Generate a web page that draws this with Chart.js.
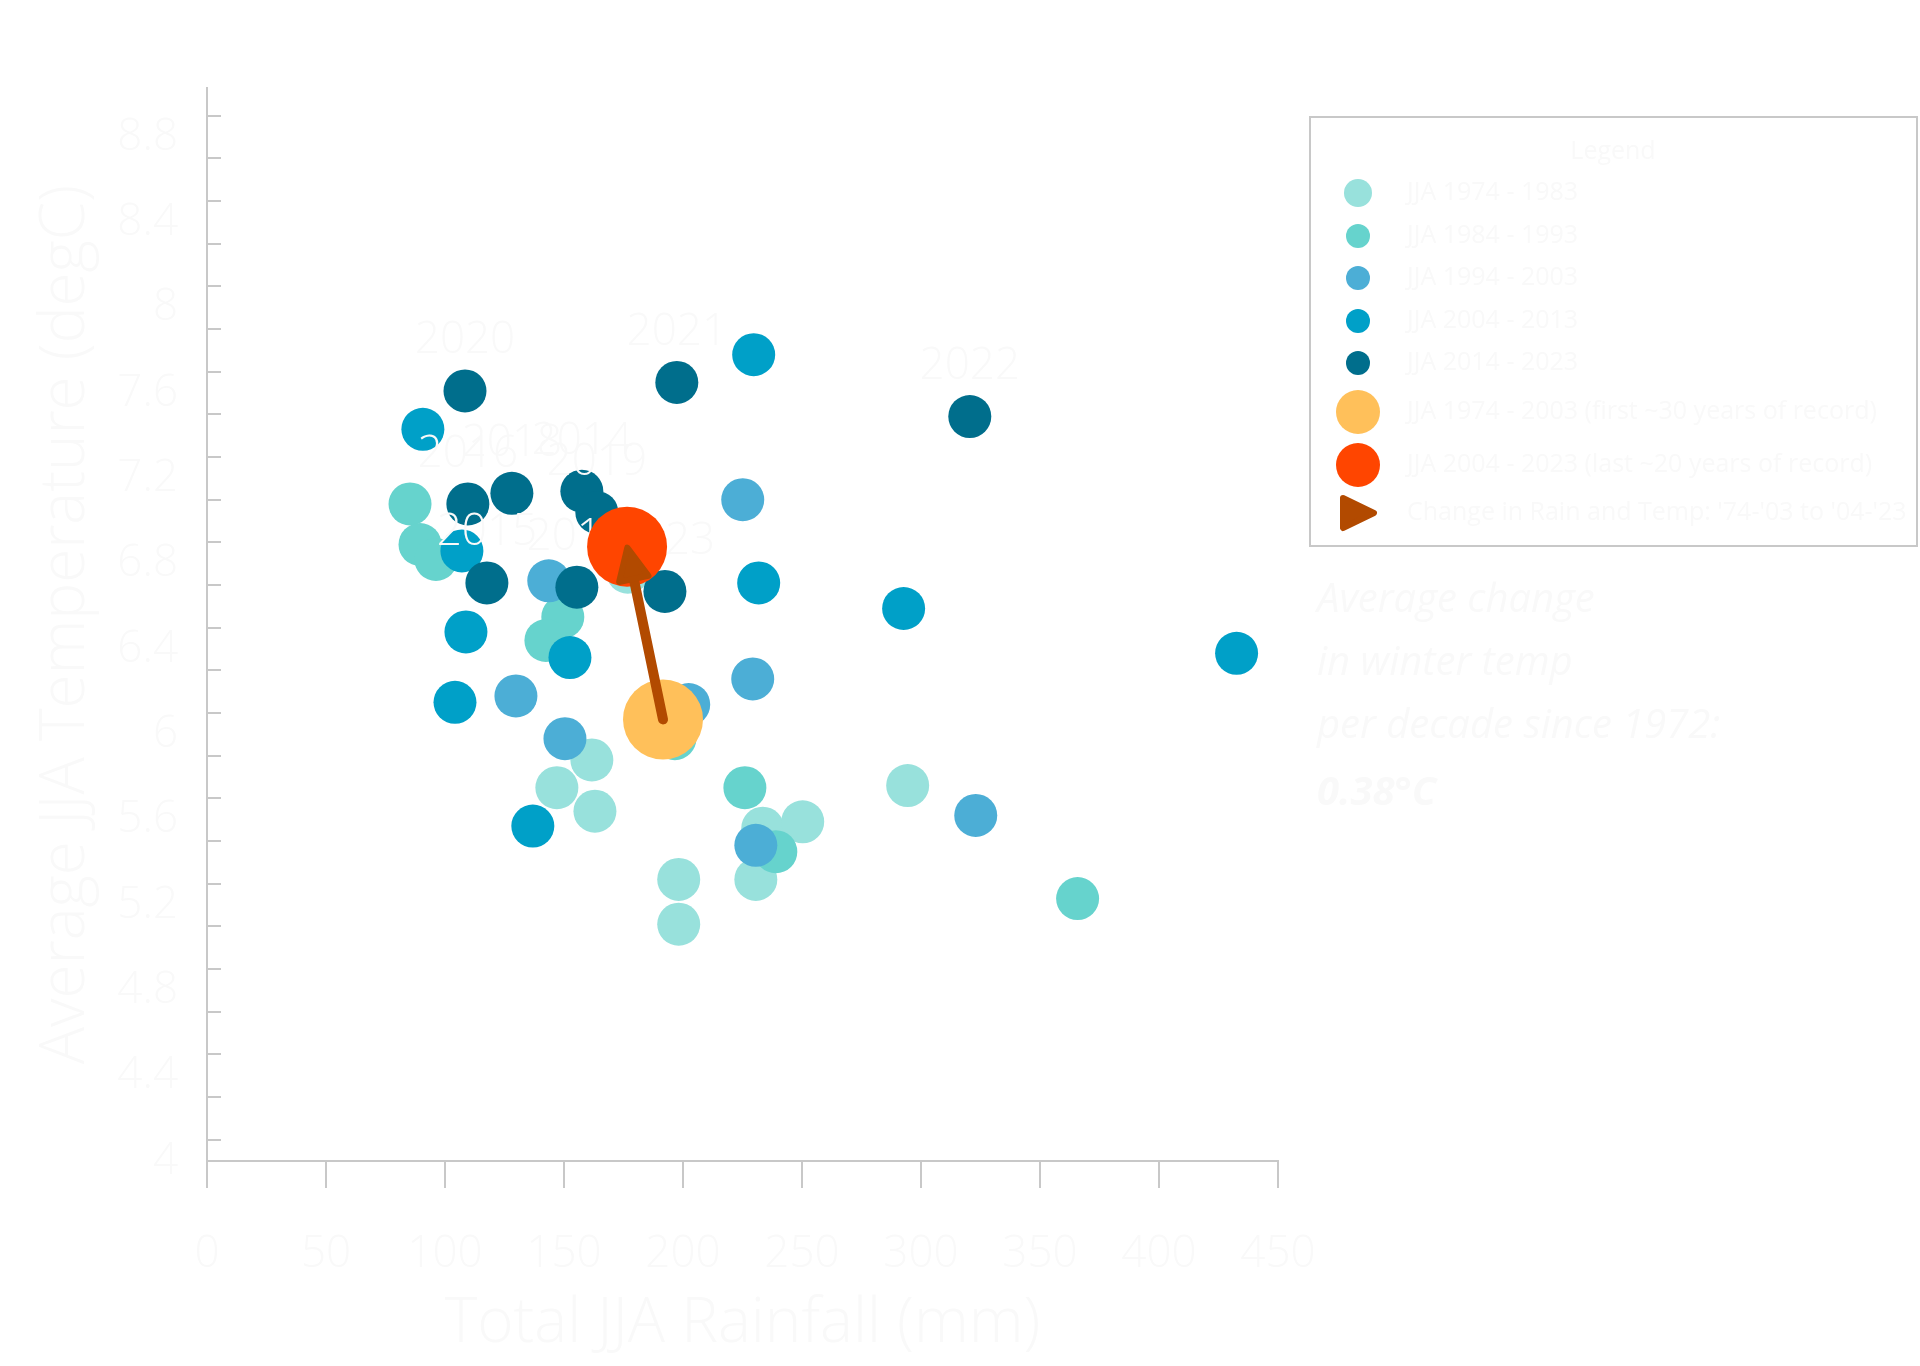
<!DOCTYPE html>
<html>
<head>
<meta charset="utf-8">
<script src="https://cdn.jsdelivr.net/npm/chart.js@4.4.1/dist/chart.umd.min.js"></script>
<style>
html,body{margin:0;padding:0;background:#ffffff;}
#wrap{width:1920px;height:1366px;position:relative;}
</style>
</head>
<body>
<div id="wrap"><canvas id="c" width="1920" height="1366"></canvas></div>
<script>
// ---------- DATA ----------
const seriesLabels = [
  'JJA 1974 - 1983',
  'JJA 1984 - 1993',
  'JJA 1994 - 2003',
  'JJA 2004 - 2013',
  'JJA 2014 - 2023',
  'JJA 1974 - 2003 (first ~30 years of record)',
  'JJA 2004 - 2023 (last ~20 years of record)',
  "Change in Rain and Temp: '74-'03 to '04-'23"
];
const seriesColors = ['#98e1dc', '#66d3cd', '#4caed6', '#00a0c8', '#006e8c', '#ffc05a', '#ff4500'];
const arrowColor = '#b24a00';

const rain1974_1983 = [176.8, 161.7, 147.0, 163.0, 233.5, 250.3, 230.6, 198.2, 198.2, 294.4];
const temp1974_1983 = [6.76, 5.88, 5.75, 5.64, 5.56, 5.59, 5.32, 5.32, 5.11, 5.76];

const rain1984_1993 = [85.3, 89.5, 96.2, 149.5, 142.4, 226.0, 239.0, 365.8, 196.6];
const temp1984_1993 = [7.08, 6.89, 6.82, 6.55, 6.44, 5.75, 5.45, 5.23, 5.98];

const rain1994_2003 = [225.1, 143.6, 129.8, 150.4, 229.3, 202.4, 230.6, 323.0];
const temp1994_2003 = [7.10, 6.72, 6.18, 5.98, 6.26, 6.14, 5.48, 5.62];

const rain2004_2013 = [90.7, 229.7, 231.8, 292.7, 432.6, 107.1, 108.8, 152.5, 104.2, 136.9];
const temp2004_2013 = [7.43, 7.78, 6.71, 6.59, 6.38, 6.86, 6.48, 6.36, 6.15, 5.57];

const years2014_2023 = ['2020', '2021', '2022', '2018', '2014', '2019', '2016', '2015', '2017', '2023'];
const rain2014_2023 = [108.4, 197.4, 320.5, 128.1, 157.5, 163.8, 109.6, 117.6, 155.4, 192.4];
const temp2014_2023 = [7.61, 7.65, 7.49, 7.13, 7.14, 7.04, 7.08, 6.71, 6.69, 6.67];

// period means: [1974-2003, 2004-2023]
const meanRain = [191.6, 176.5];
const meanTemp = [6.07, 6.88];

const xTickValues = [0, 50, 100, 150, 200, 250, 300, 350, 400, 450];
const yTickLabels = [4, 4.4, 4.8, 5.2, 5.6, 6, 6.4, 6.8, 7.2, 7.6, 8, 8.4, 8.8];
const yMinorTicks = [4.1, 4.3, 4.5, 4.7, 4.9, 5.1, 5.3, 5.5, 5.7, 5.9, 6.1, 6.3, 6.5, 6.7, 6.9, 7.1, 7.3, 7.5, 7.7, 7.9, 8.1, 8.3, 8.5, 8.7, 8.9];

const xTitle = 'Total JJA Rainfall (mm)';
const yTitle = 'Average JJA Temperature (degC)';
const legendTitle = 'Legend';
const annotationLines = ['Average change', 'in winter temp', 'per decade since 1972:', '0.38\u00B0C'];

// ---------- STYLE ----------
const FONT = "'Open Sans', 'Noto Sans', 'DejaVu Sans', sans-serif";
const TXT = '#f9f9f9';
const AXIS = '#c8c8c8';

const pts = (xs, ys) => xs.map((x, i) => ({ x: x, y: ys[i] }));

function pointSet(label, xs, ys, color, r, order) {
  return {
    label: label,
    data: pts(xs, ys),
    backgroundColor: color,
    borderColor: color,
    pointRadius: r,
    pointHoverRadius: r,
    pointBorderWidth: 0,
    pointHoverBorderWidth: 0,
    order: order
  };
}

const DARK_INDEX = 2;
const datasets = [
  pointSet(seriesLabels[6], [meanRain[1]], [meanTemp[1]], seriesColors[6], 40, 1),
  pointSet(seriesLabels[5], [meanRain[0]], [meanTemp[0]], seriesColors[5], 40, 2),
  pointSet(seriesLabels[4], rain2014_2023, temp2014_2023, seriesColors[4], 21.5, 3),
  pointSet(seriesLabels[3], rain2004_2013, temp2004_2013, seriesColors[3], 21.5, 4),
  pointSet(seriesLabels[2], rain1994_2003, temp1994_2003, seriesColors[2], 21.5, 5),
  pointSet(seriesLabels[1], rain1984_1993, temp1984_1993, seriesColors[1], 21.5, 6),
  pointSet(seriesLabels[0], rain1974_1983, temp1974_1983, seriesColors[0], 21.5, 7)
];

// ---------- EXTRA DRAWING ----------
function roundedTriangle(ctx, tip, dirx, diry, len, half, color, join) {
  const bx = tip.x - dirx * len, by = tip.y - diry * len;
  const nx = -diry, ny = dirx;
  ctx.beginPath();
  ctx.moveTo(tip.x, tip.y);
  ctx.lineTo(bx + nx * half, by + ny * half);
  ctx.lineTo(bx - nx * half, by - ny * half);
  ctx.closePath();
  ctx.fillStyle = color;
  ctx.strokeStyle = color;
  ctx.lineJoin = 'round';
  ctx.lineWidth = join;
  ctx.fill();
  ctx.stroke();
}

const extras = {
  id: 'extras',
  afterDatasetDraw(chart, args) {
    if (args.index !== DARK_INDEX) return;
    // year labels for 2014-2023 (under the period means)
    const ctx = chart.ctx;
    const xs = chart.scales.x, ys = chart.scales.y;
    ctx.save();
    ctx.font = '300 44px ' + FONT;
    ctx.fillStyle = TXT;
    ctx.textAlign = 'center';
    ctx.textBaseline = 'middle';
    years2014_2023.forEach((yr, i) => {
      const px = xs.getPixelForValue(rain2014_2023[i]);
      const py = ys.getPixelForValue(temp2014_2023[i]);
      ctx.fillText(yr, px, py - 50);
    });
    ctx.restore();
  },
  afterDatasetsDraw(chart) {
    const ctx = chart.ctx;
    const xs = chart.scales.x, ys = chart.scales.y;
    // arrow from first-period mean to last-period mean
    const sx = xs.getPixelForValue(meanRain[0]), sy = ys.getPixelForValue(meanTemp[0]);
    const ex = xs.getPixelForValue(meanRain[1]), ey = ys.getPixelForValue(meanTemp[1]);
    const dx = ex - sx, dy = ey - sy, L = Math.hypot(dx, dy);
    const ux = dx / L, uy = dy / L;
    const tip = { x: ex + ux * 2, y: ey + uy * 2 };
    ctx.save();
    ctx.strokeStyle = arrowColor;
    ctx.lineWidth = 10;
    ctx.lineCap = 'round';
    ctx.beginPath();
    ctx.moveTo(sx, sy);
    ctx.lineTo(tip.x - ux * 28, tip.y - uy * 28);
    ctx.stroke();
    roundedTriangle(ctx, { x: tip.x - ux * 3, y: tip.y - uy * 3 }, ux, uy, 32, 15, arrowColor, 6);
    ctx.restore();
  },
  afterDraw(chart) {
    const ctx = chart.ctx;
    ctx.save();
    // legend box
    ctx.strokeStyle = AXIS;
    ctx.lineWidth = 2;
    ctx.strokeRect(1310, 117, 607, 429);
    ctx.fillStyle = TXT;
    ctx.textBaseline = 'middle';
    ctx.textAlign = 'center';
    ctx.font = '400 25px ' + FONT;
    ctx.fillText(legendTitle, 1613, 152);
    const rowY = [193, 236, 278, 321, 363, 412, 465, 513];
    const radii = [14, 12, 12, 12, 12, 22, 22];
    const mx = 1358;
    for (let i = 0; i < 7; i++) {
      ctx.beginPath();
      ctx.arc(mx, rowY[i], radii[i], 0, Math.PI * 2);
      ctx.fillStyle = seriesColors[i];
      ctx.fill();
    }
    roundedTriangle(ctx, { x: 1374, y: rowY[7] }, 1, 0, 31, 15, arrowColor, 6);
    ctx.textAlign = 'left';
    ctx.fillStyle = TXT;
    ctx.font = '400 25px ' + FONT;
    for (let i = 0; i < 8; i++) {
      ctx.fillText(seriesLabels[i], 1407, rowY[i]);
    }
    // annotation
    const base = [612, 675, 738, 805];
    ctx.textBaseline = 'alphabetic';
    annotationLines.forEach((t, i) => {
      ctx.font = (i === annotationLines.length - 1 ? 'italic 700 40px ' : 'italic 400 40px ') + FONT;
      ctx.fillText(t, 1317, base[i]);
    });
    ctx.restore();
  }
};

// ---------- CHART ----------
new Chart(document.getElementById('c'), {
  type: 'scatter',
  data: { datasets: datasets },
  plugins: [extras],
  options: {
    responsive: false,
    animation: false,
    devicePixelRatio: 1,
    layout: { padding: { left: 0, top: 88, right: 642, bottom: 0 } },
    plugins: { legend: { display: false }, tooltip: { enabled: false } },
    scales: {
      x: {
        type: 'linear', position: 'bottom', min: 0, max: 450,
        afterBuildTicks: s => { s.ticks = xTickValues.map(v => ({ value: v })); },
        afterFit: s => { s.height = 205; },
        grid: { display: true, drawOnChartArea: false, drawTicks: true, tickLength: 27, color: AXIS, lineWidth: 2 },
        border: { display: true, color: AXIS, width: 2 },
        ticks: { color: TXT, font: { family: FONT, size: 44, weight: '300' }, padding: 40, maxRotation: 0, autoSkip: false },
        title: { display: true, text: xTitle, color: TXT, font: { family: FONT, size: 62, weight: '300' }, padding: { top: 0, bottom: 4 } }
      },
      y: {
        type: 'linear', position: 'left', weight: 1, min: 4, max: 9.03,
        afterBuildTicks: s => { s.ticks = yTickLabels.map(v => ({ value: v })); },
        afterFit: s => { s.width = 207; },
        grid: { display: false, drawTicks: false },
        border: { display: false },
        ticks: { color: TXT, font: { family: FONT, size: 44, weight: '300' }, padding: 29, autoSkip: false, callback: v => String(v) },
        title: { display: true, text: yTitle, color: TXT, font: { family: FONT, size: 62, weight: '300' }, padding: { top: 29, bottom: 0 } }
      },
      y2: {
        type: 'linear', position: 'left', weight: 0, min: 4, max: 9.03,
        afterBuildTicks: s => { s.ticks = yMinorTicks.map(v => ({ value: v })); },
        afterFit: s => { s.width = 0; },
        grid: { display: true, drawOnChartArea: false, drawTicks: true, tickLength: -14, color: AXIS, lineWidth: 2 },
        border: { display: true, color: AXIS, width: 2 },
        ticks: { display: false }
      }
    }
  }
});
</script>
</body>
</html>
